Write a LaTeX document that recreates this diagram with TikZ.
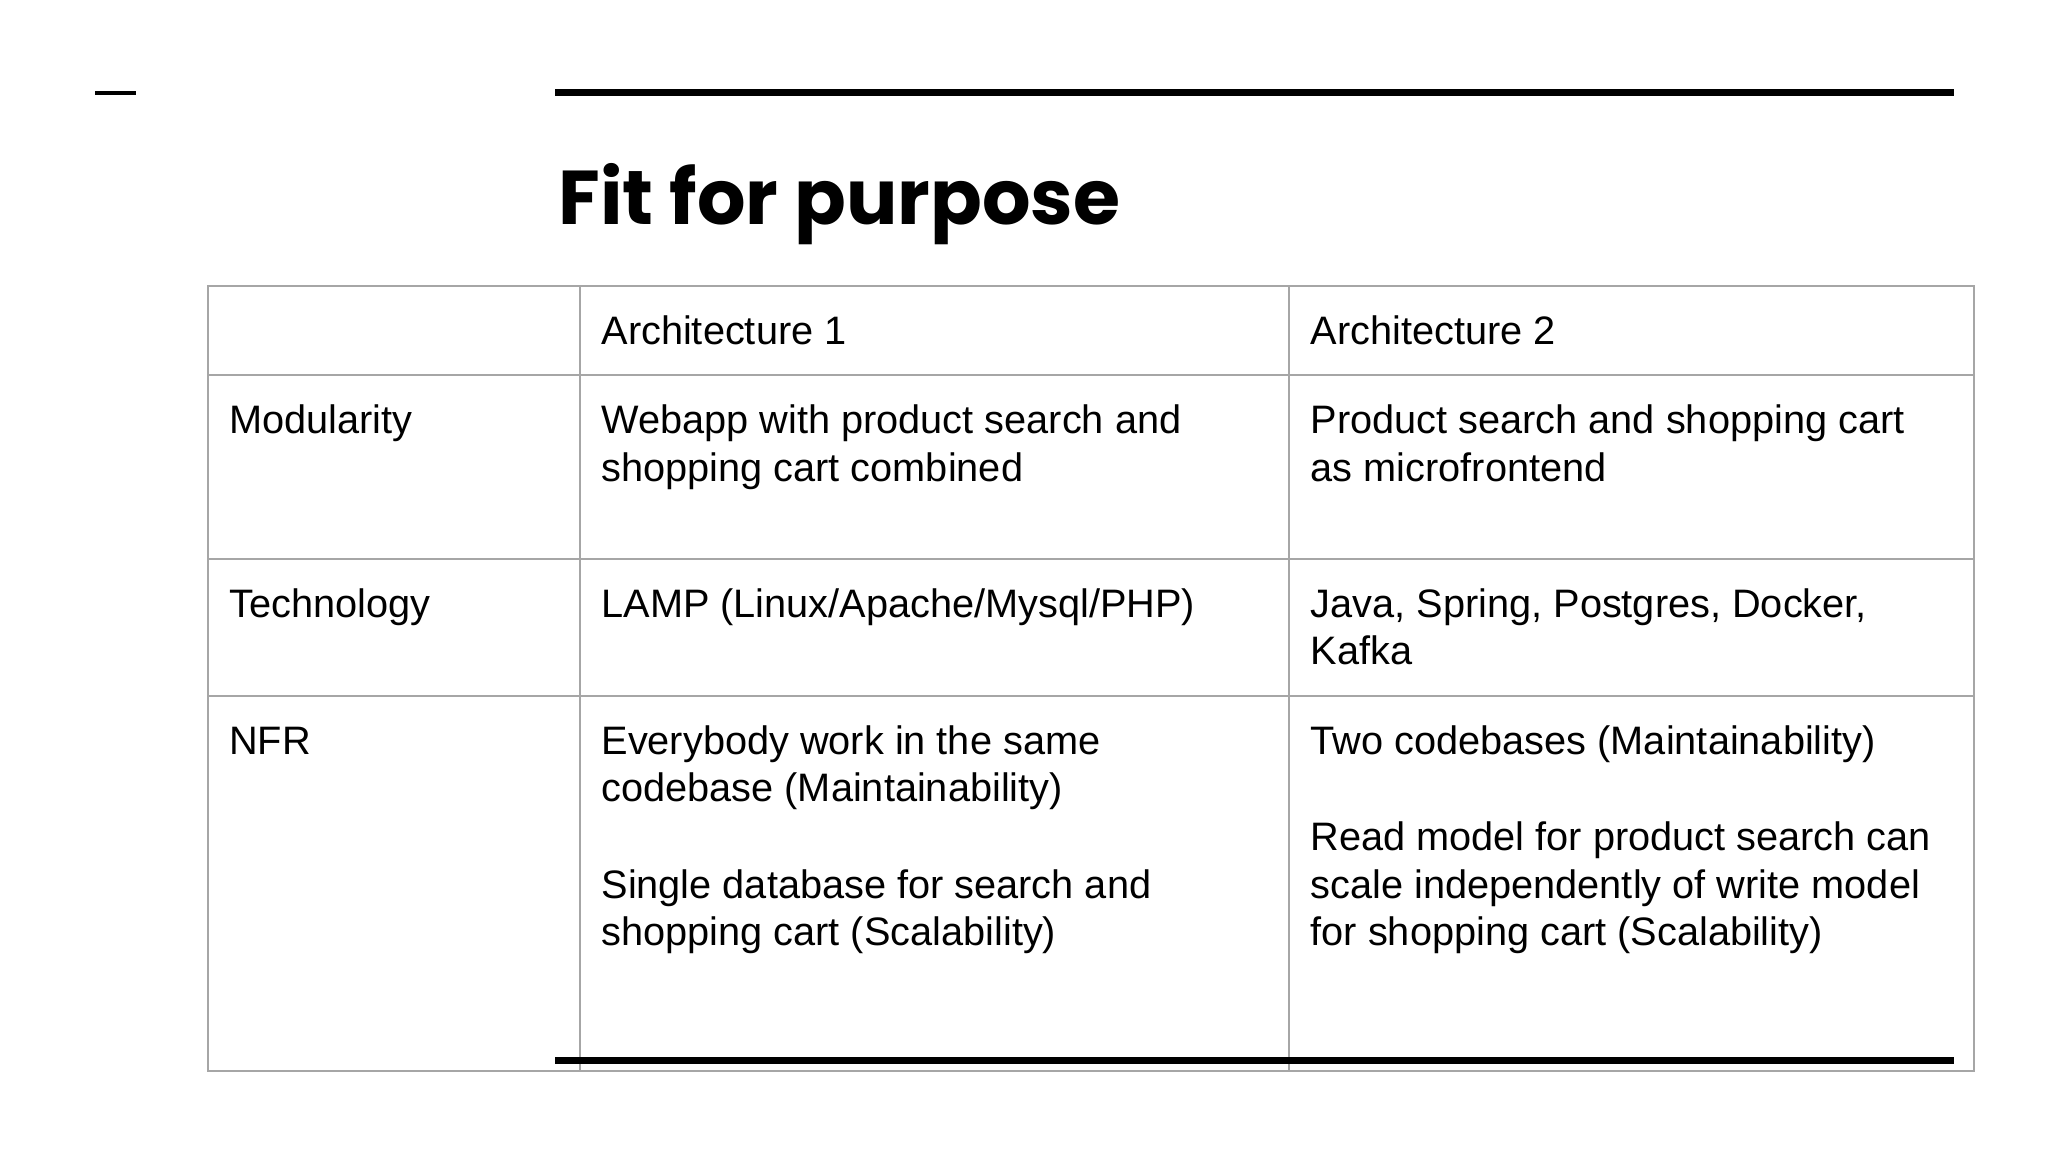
\documentclass[tikz,border=0pt]{standalone}
\usepackage{fontspec}
\setmainfont{Liberation Sans}
\newfontfamily\titlefont{Poppins}
\begin{document}
\begin{tikzpicture}[x=0.013061cm,y=-0.013061cm,
  grid/.style={draw=black!35,line width=0.6pt},
  bar/.style={draw=black,line width=1.9pt},
  txt/.style={anchor=base west,inner sep=0pt,font=\fontsize{11.3}{13.4}\selectfont}]
\useasboundingbox (0,0) rectangle (1568,882);
\draw[black,line width=1.1pt] (73,71) -- (104,71);
\coordinate (tl1) at (425,71); \coordinate (tl2) at (1496,71);
\draw[bar] (tl1) -- (tl2);
\node[anchor=base west,inner sep=0pt,font=\titlefont\bfseries\fontsize{21.7}{26}\selectfont] (title) at (427,172) {Fit for purpose};
% table
\draw[grid] (159,219) rectangle (1511,820);
\foreach \yy in {287,428,533} \draw[grid] (159,\yy) -- (1511,\yy);
\foreach \xx in {444,987} \draw[grid] (\xx,219) -- (\xx,820);
\coordinate (bl1) at (425,812); \coordinate (bl2) at (1496,812);
\draw[bar] (bl1) -- (bl2);
% header
\node[txt] (h1) at (460,264) {Architecture 1};
\node[txt] (h2) at (1003,264) {Architecture 2};
% modularity
\node[txt] (m0) at (175,332) {Modularity};
\node[txt] (m1a) at (460,332) {Webapp with product search and};
\node[txt] (m1b) at (460,369) {shopping cart combined};
\node[txt] (m2a) at (1003,332) {Product search and shopping cart};
\node[txt] (m2b) at (1003,369) {as microfrontend};
% technology
\node[txt] (t0) at (175,473) {Technology};
\node[txt] (t1) at (460,473) {LAMP (Linux/Apache/Mysql/PHP)};
\node[txt] (t2a) at (1003,473) {Java, Spring, Postgres, Docker,};
\node[txt] (t2b) at (1003,509) {Kafka};
% NFR
\node[txt] (n0) at (175,578) {NFR};
\node[txt] (n1a) at (460,578) {Everybody work in the same};
\node[txt] (n1b) at (460,614) {codebase (Maintainability)};
\node[txt] (n1c) at (460,688) {Single database for search and};
\node[txt] (n1d) at (460,724) {shopping cart (Scalability)};
\node[txt] (n2a) at (1003,578) {Two codebases (Maintainability)};
\node[txt] (n2b) at (1003,651) {Read model for product search can};
\node[txt] (n2c) at (1003,688) {scale independently of write model};
\node[txt] (n2d) at (1003,724) {for shopping cart (Scalability)};
\end{tikzpicture}
\end{document}
